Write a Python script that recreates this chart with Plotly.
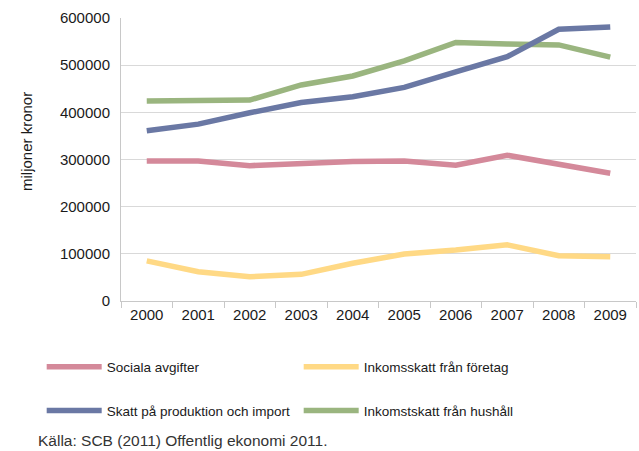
import plotly.graph_objects as go

years = ["2000", "2001", "2002", "2003", "2004", "2005", "2006", "2007", "2008", "2009"]
sociala = [297000, 297000, 287000, 292000, 296000, 297000, 288000, 309000, 289000, 271000]
skatt_prod = [361000, 375000, 399000, 421000, 433000, 453000, 486000, 518000, 576000, 581000]
inkomst_foretag = [85000, 62000, 51500, 56500, 80000, 99600, 108000, 119000, 96000, 94000]
inkomst_hushall = [424000, 425000, 426000, 458000, 477000, 509000, 548000, 545000, 543000, 517000]

y_ticks = [0, 100000, 200000, 300000, 400000, 500000, 600000]

RED = "#D4899A"
BLUE = "#6A78A4"
YELLOW = "#FFD985"
GREEN = "#9AB57F"

LW = 5.5
SANS = "Liberation Sans, Arial, sans-serif"
legend_font = dict(family=SANS, size=13.5, color="#1a1a1a")

fig = go.Figure()
fig.add_trace(go.Scatter(x=years, y=inkomst_hushall, mode="lines", name="Inkomstskatt från hushåll",
                         line=dict(color=GREEN, width=LW), legend="legend2"))
fig.add_trace(go.Scatter(x=years, y=skatt_prod, mode="lines", name="Skatt på produktion och import",
                         line=dict(color=BLUE, width=LW), legend="legend2"))
fig.add_trace(go.Scatter(x=years, y=sociala, mode="lines", name="Sociala avgifter",
                         line=dict(color=RED, width=LW), legend="legend"))
fig.add_trace(go.Scatter(x=years, y=inkomst_foretag, mode="lines", name="Inkomsskatt från företag",
                         line=dict(color=YELLOW, width=LW), legend="legend"))

legend_common = dict(orientation="h", font=legend_font, bgcolor="rgba(0,0,0,0)",
                     entrywidth=187, entrywidthmode="pixels", itemwidth=55,
                     xanchor="left", yanchor="middle")

fig.update_layout(
    width=639, height=451,
    margin=dict(l=121, r=3, t=18, b=150, autoexpand=False),
    paper_bgcolor="white", plot_bgcolor="white",
    font=dict(family=SANS, size=15, color="#1a1a1a"),
    xaxis=dict(type="category", showgrid=False, showline=True, linecolor="#c8c8c8", linewidth=1,
               ticks="outside", tickson="boundaries", ticklen=6, tickcolor="#c8c8c8",
               tickfont=dict(size=15), range=[-0.5, 9.5], fixedrange=True),
    yaxis=dict(range=[0, 600000], tickvals=y_ticks, ticktext=[str(v) for v in y_ticks],
               showgrid=True, gridcolor="#d9d9d9", gridwidth=1,
               showline=True, linecolor="#c8c8c8", linewidth=1, zeroline=False,
               ticks="", ticklabelstandoff=7, tickfont=dict(size=15)),
    legend=dict(x=-0.154, y=-0.233, traceorder="normal", **legend_common),
    legend2=dict(x=-0.154, y=-0.388, traceorder="reversed", **legend_common),
    showlegend=True,
    annotations=[
        dict(text="miljoner kronor", textangle=-90, xref="paper", yref="paper",
             x=(26 - 121) / 515, y=(301 - 142) / 283, xanchor="center", yanchor="middle",
             showarrow=False, font=dict(size=15, color="#1a1a1a")),
        dict(text="Källa: SCB (2011) Offentlig ekonomi 2011.", xref="paper", yref="paper",
             x=(36 - 121) / 515, y=(301 - 440) / 283, xanchor="left", yanchor="middle",
             showarrow=False, font=dict(family=SANS, size=15.5, color="#333333")),
    ],
)

fig.write_html("out.html", config={"displayModeBar": False},
               post_script="document.body.style.margin='0';")
